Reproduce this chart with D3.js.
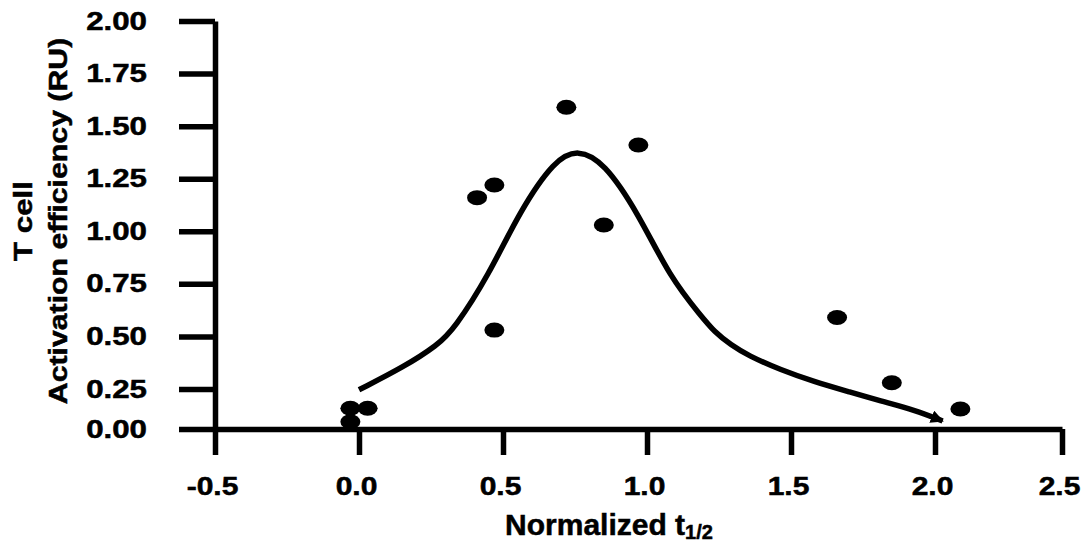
<!DOCTYPE html>
<html>
<head>
<meta charset="utf-8">
<script src="https://cdn.jsdelivr.net/npm/d3@7"></script>
<style>
  html, body { margin: 0; padding: 0; background: #fff; }
  svg { display: block; }
  text { font-family: "Liberation Sans", Arial, sans-serif; font-weight: bold; fill: #000; stroke: #000; stroke-width: 0.5px; }
</style>
</head>
<body>
<svg id="chart" width="1084" height="544"></svg>
<script>
// ---- data ----
const xTickValues = [-0.5, 0.0, 0.5, 1.0, 1.5, 2.0, 2.5];
const xTickLabels = ["-0.5", "0.0", "0.5", "1.0", "1.5", "2.0", "2.5"];
const yTickValues = [0, 0.25, 0.5, 0.75, 1.0, 1.25, 1.5, 1.75, 2.0];
const yTickLabels = ["0.00", "0.25", "0.50", "0.75", "1.00", "1.25", "1.50", "1.75", "2.00"];

const pointX = [-0.03, -0.03, 0.03, 0.41, 0.47, 0.47, 0.72, 0.85, 0.97, 1.66, 1.85, 2.10];
const pointY = [0.045, 0.13, 0.13, 1.16, 1.22, 0.53, 1.59, 1.03, 1.41, 0.59, 0.28, 0.125];

const curveX = [0.0, 0.157, 0.273, 0.33, 0.45, 0.56, 0.68, 0.76, 0.85, 0.97, 1.08, 1.19, 1.234, 1.292, 1.35, 1.465, 1.58, 1.70, 1.81, 1.93, 2.03];
const curveY = [0.245, 0.356, 0.459, 0.535, 0.79, 1.10, 1.34, 1.39, 1.33, 1.085, 0.78, 0.594, 0.522, 0.459, 0.41, 0.34, 0.285, 0.233, 0.175, 0.119, 0.05];

const xTitle = "Normalized t";
const xTitleSub = "1/2";
const yTitle1 = "T cell";
const yTitle2 = "Activation efficiency (RU)";

// ---- layout ----
const svg = d3.select("#chart");
const x = d3.scaleLinear().domain([-0.5, 2.0, 2.5]).range([215, 935, 1062]);
const y = d3.scaleLinear().domain([0, 0.25, 2.0]).range([429, 389, 21]);
const AXW = 5.5;

function widen(sel, k) {
  sel.each(function () {
    const w = this.getComputedTextLength();
    d3.select(this).attr("textLength", w * k).attr("lengthAdjust", "spacingAndGlyphs");
  });
}

// y axis
const yAxis = d3.axisLeft(y)
  .tickValues(yTickValues)
  .tickFormat((d, i) => yTickLabels[i])
  .tickSize(36).tickSizeOuter(0).tickPadding(32);
const gy = svg.append("g").attr("transform", "translate(215,0)").call(yAxis);
gy.selectAll("path.domain").attr("stroke", "#000").attr("stroke-width", AXW);
gy.selectAll(".tick line").attr("stroke", "#000").attr("stroke-width", AXW);
gy.selectAll(".tick text").attr("font-size", 25).attr("font-family", null);
widen(gy.selectAll(".tick text"), 1.25);

// x axis
const xAxis = d3.axisBottom(x)
  .tickValues(xTickValues)
  .tickFormat((d, i) => xTickLabels[i])
  .tickSize(26).tickSizeOuter(0).tickPadding(22);
const gx = svg.append("g").attr("transform", "translate(0,429)").call(xAxis);
gx.selectAll("path.domain").attr("stroke", "#000").attr("stroke-width", AXW);
gx.selectAll(".tick line").attr("stroke", "#000").attr("stroke-width", AXW);
gx.selectAll(".tick text").attr("font-size", 25).attr("font-family", null).attr("dx", -3);
widen(gx.selectAll(".tick text"), 1.2);

// axis titles
const xt = svg.append("text")
  .attr("transform", "translate(609,535)")
  .attr("text-anchor", "middle")
  .attr("font-size", 30);
xt.append("tspan").text(xTitle);
xt.append("tspan").attr("font-size", 20).attr("dy", 4).text(xTitleSub);

const yt1 = svg.append("text")
  .attr("transform", "translate(32,221) rotate(-90)")
  .attr("text-anchor", "middle")
  .attr("font-size", 25)
  .text(yTitle1);
widen(yt1, 1.25);
const yt2 = svg.append("text")
  .attr("transform", "translate(67,221) rotate(-90)")
  .attr("text-anchor", "middle")
  .attr("font-size", 25)
  .text(yTitle2);
widen(yt2, 1.21);

// arrow marker for the fitted curve
svg.append("defs").append("marker")
  .attr("id", "arrow")
  .attr("markerUnits", "userSpaceOnUse")
  .attr("viewBox", "0 0 10 10")
  .attr("refX", 9).attr("refY", 5)
  .attr("markerWidth", 13).attr("markerHeight", 13)
  .attr("orient", "auto")
  .append("path").attr("d", "M0,0 L10,5 L0,10 Z").attr("fill", "#000");

// fitted curve
const curveData = curveX.map((cx, i) => [cx, curveY[i]]);
svg.append("path")
  .datum(curveData)
  .attr("fill", "none")
  .attr("stroke", "#000")
  .attr("stroke-width", 5.5)
  .attr("marker-end", "url(#arrow)")
  .attr("d", d3.line().x(d => x(d[0])).y(d => y(d[1])).curve(d3.curveBasis));

// data points
const pts = pointX.map((px, i) => [px, pointY[i]]);
svg.append("g").selectAll("ellipse")
  .data(pts).join("ellipse")
  .attr("cx", d => x(d[0]))
  .attr("cy", d => y(d[1]))
  .attr("rx", 10).attr("ry", 7.5)
  .attr("fill", "#000");
</script>
</body>
</html>
